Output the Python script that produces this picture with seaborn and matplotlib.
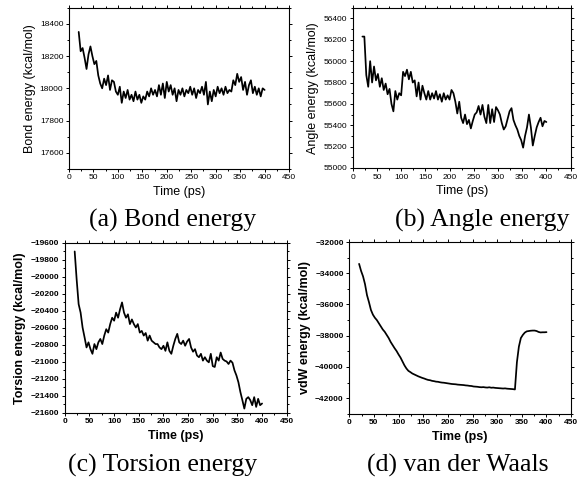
import matplotlib
matplotlib.use("Agg")
import matplotlib.pyplot as plt
import seaborn as sns
from matplotlib.ticker import MultipleLocator

# sampling grid of the MD trajectory (ps)
time_ps = list(range(20, 401, 4))

bond_energy = [
    18350, 18230, 18250, 18190, 18120, 18210, 18260, 18200,
    18150, 18170, 18080, 18030, 18000, 18060, 18020, 18080,
    17990, 18050, 18040, 17980, 17960, 18010, 17910, 17980,
    17940, 17990, 17930, 17960, 17920, 17980, 17930, 17960,
    17910, 17950, 17930, 17980, 17950, 18000, 17960, 17990,
    17950, 18020, 17960, 18030, 17940, 18040, 17980, 18020,
    17960, 18000, 17920, 17990, 17960, 18000, 17950, 17990,
    17970, 18010, 17960, 18000, 17940, 17990, 17970, 18010,
    17960, 18040, 17900, 17980, 17920, 17990, 17950, 18010,
    17970, 18000, 17960, 18010, 17970, 17990, 17980, 18050,
    18020, 18090, 18040, 18070, 17990, 18040, 17960, 18020,
    18050, 17970, 18010, 17960, 18000, 17950, 18000, 17990,
]

angle_energy = [
    56230, 56230, 55870, 55760, 56000, 55800, 55950, 55820,
    55880, 55760, 55840, 55730, 55790, 55690, 55740, 55600,
    55530, 55720, 55640, 55700, 55680, 55900, 55860, 55920,
    55830, 55900, 55800, 55820, 55670, 55800, 55640, 55770,
    55700, 55640, 55720, 55640, 55700, 55650, 55720, 55640,
    55690, 55620, 55700, 55640, 55680, 55640, 55730, 55700,
    55620, 55510, 55620, 55470, 55420, 55500, 55410, 55450,
    55370, 55440, 55500, 55520, 55580, 55500, 55590, 55480,
    55420, 55590, 55420, 55550, 55430, 55570, 55540, 55500,
    55420, 55360, 55390, 55460, 55530, 55560, 55450, 55400,
    55360, 55300, 55260, 55190, 55300, 55380, 55500, 55380,
    55210, 55300, 55380, 55430, 55470, 55390, 55440, 55430,
]

torsion_energy = [
    -19700, -20030, -20320, -20420, -20595, -20710, -20830, -20770,
    -20850, -20905, -20790, -20850, -20770, -20730, -20790, -20690,
    -20615, -20655, -20555, -20480, -20515, -20420, -20480, -20380,
    -20300, -20420, -20480, -20440, -20555, -20500, -20555, -20595,
    -20555, -20655, -20635, -20690, -20660, -20750, -20690, -20750,
    -20770, -20790, -20790, -20830, -20850, -20810, -20870, -20770,
    -20870, -20905, -20810, -20730, -20670, -20770, -20790, -20750,
    -20810, -20760, -20730, -20830, -20880, -20850, -20925, -20945,
    -20905, -20985, -20945, -20985, -21005, -20905, -21050, -21060,
    -20945, -20985, -20890, -20965, -20985, -20995, -21025, -20985,
    -21010, -21100, -21160, -21240, -21355, -21450, -21550, -21435,
    -21415, -21450, -21510, -21415, -21530, -21435, -21510, -21490,
]

vdw_energy = [
    -33400, -33850, -34200, -34700, -35400, -35850, -36350, -36650,
    -36850, -37000, -37200, -37400, -37600, -37750, -37950, -38150,
    -38400, -38600, -38800, -38980, -39200, -39400, -39650, -39900,
    -40100, -40250, -40330, -40420, -40480, -40540, -40600, -40650,
    -40700, -40740, -40790, -40830, -40850, -40890, -40910, -40940,
    -40950, -40980, -41000, -41010, -41030, -41050, -41070, -41090,
    -41100, -41110, -41130, -41140, -41150, -41160, -41180, -41190,
    -41210, -41220, -41250, -41260, -41270, -41290, -41300, -41290,
    -41310, -41320, -41300, -41330, -41320, -41340, -41350, -41360,
    -41370, -41380, -41370, -41390, -41400, -41410, -41420, -41440,
    -39700, -38700, -38150, -37950, -37800, -37720, -37700, -37680,
    -37670, -37670, -37700, -37760, -37790, -37780, -37780, -37770,
]

sns.set_theme(style="ticks")
plt.rcParams['font.family'] = ['Liberation Sans', 'DejaVu Sans']
plt.rcParams['text.color'] = 'black'
plt.rcParams['axes.labelcolor'] = 'black'

fig = plt.figure(figsize=(5.84, 4.84), dpi=100)

# values, y label, caption, axes rect, ylim, major, minor, weight, caption pos
panels = [
    (bond_energy, 'Bond energy (kcal/mol)', '(a) Bond energy',
     [0.118, 0.651, 0.377, 0.333], (17500, 18500), 200, 100, 'normal', (0.295, 0.531)),
    (angle_energy, 'Angle energy (kcal/mol)', '(b) Angle energy',
     [0.604, 0.653, 0.373, 0.331], (55000, 56500), 200, 100, 'normal', (0.825, 0.531)),
    (torsion_energy, 'Torsion energy (kcal/mol)', '(c) Torsion energy',
     [0.111, 0.147, 0.380, 0.351], (-21600, -19600), 200, 100, 'bold', (0.278, 0.025)),
    (vdw_energy, 'vdW energy (kcal/mol)', '(d) van der Waals',
     [0.598, 0.145, 0.380, 0.355], (-43000, -32000), 2000, 1000, 'bold', (0.784, 0.025)),
]

for values, ylabel, caption, rect, ylim, major, minor, weight, cpos in panels:
    ax = fig.add_axes(rect)
    sns.lineplot(x=time_ps, y=values, ax=ax, color='black', lw=1.25)

    ax.set_xlim(0, 450)
    ax.set_ylim(*ylim)
    ax.xaxis.set_major_locator(MultipleLocator(50))
    ax.xaxis.set_minor_locator(MultipleLocator(25))
    ax.yaxis.set_major_locator(MultipleLocator(major))
    ax.yaxis.set_minor_locator(MultipleLocator(minor))

    ax.tick_params(which='both', top=True, right=True, width=0.7,
                   labelsize=6, pad=1.5, colors='black')
    ax.tick_params(which='major', length=2.5)
    ax.tick_params(which='minor', length=1.5)
    for lab in ax.get_xticklabels() + ax.get_yticklabels():
        lab.set_fontweight(weight)

    for sp in ax.spines.values():
        sp.set_linewidth(0.8)
        sp.set_color('black')

    ax.set_xlabel('Time (ps)', fontsize=9, fontweight=weight, labelpad=3)
    ax.set_ylabel(ylabel, fontsize=9, fontweight=weight, labelpad=3)

    fig.text(cpos[0], cpos[1], caption, ha='center', va='baseline', color='black',
             fontsize=18.5, family=['Liberation Serif', 'DejaVu Serif'])

fig.savefig('out.png', dpi=100, facecolor='white')
